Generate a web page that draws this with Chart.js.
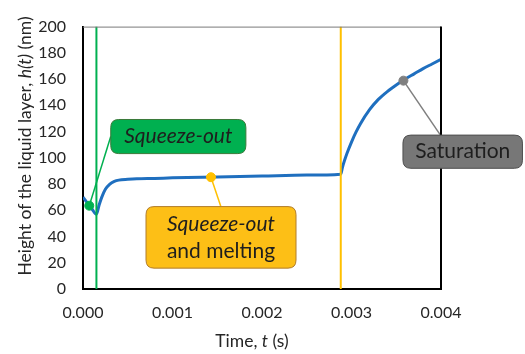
<!DOCTYPE html>
<html>
<head>
<meta charset="utf-8">
<script src="https://cdn.jsdelivr.net/npm/chart.js@4/dist/chart.umd.min.js"></script>
<style>
  html, body { margin: 0; padding: 0; background: #fff; }
  canvas { display: block; }
</style>
</head>
<body>
<canvas id="chart" width="525" height="354"></canvas>
<script>
// Curve h(t)
const timeS = [0, 0.00005, 0.0001, 0.00015, 0.00018, 0.00021, 0.00025, 0.0003, 0.00035, 0.0004,
    0.0005, 0.0006, 0.0008, 0.001, 0.0015, 0.002, 0.0025, 0.00288, 0.0029, 0.00292, 0.00295,
    0.003, 0.00305, 0.0031, 0.0032, 0.0033, 0.0034, 0.0035, 0.0036, 0.0037, 0.0038, 0.0039, 0.004];
const heightNm = [70, 65.5, 61, 57, 64, 70, 76, 80, 82, 83,
    83.6, 84, 84.3, 84.7, 85.4, 86.1, 86.8, 87.5, 93, 97.5, 103.5,
    112, 119.5, 126, 136.5, 144.5, 150.5, 155.5, 160, 164, 168, 171.5, 175];

// Phase boundaries (vertical lines)
const phaseTimes = [0.00015, 0.00288];
const phaseColors = ['#00B050', '#FFC000'];

// Callout points on the curve
const calloutT = [0.00007, 0.00143, 0.00358];
const calloutH = [63.5, 85.2, 158.8];
const calloutColors = ['#00B050', '#FFC000', '#7F7F7F'];

const xTicks = [0, 0.001, 0.002, 0.003, 0.004];
const FONT = 'Lato, "Open Sans", sans-serif';
const TEXT = '#262626';

// Callout boxes, placed in data units
const callouts = [
  { lines: [[{ s: 'Squeeze-out', i: true }]], x0: 0.00031, x1: 0.00182, y0: 129.2, y1: 103.2,
    fill: '#00B050', stroke: '#3A7A3A', lead: [0.00031, 116.3] },
  { lines: [[{ s: 'Squeeze-out', i: true }], [{ s: 'and melting', i: false }]], x0: 0.000704, x1: 0.00238, y0: 62.8, y1: 15.9,
    fill: '#FDBF16', stroke: '#B07C2C', lead: [0.00154, 62.8] },
  { lines: [[{ s: 'Saturation', i: false }]], x0: 0.003575, x1: 0.00491, y0: 117.3, y1: 92,
    fill: '#777777', stroke: '#4D4D4D', lead: [0.00399, 117.7] }
];

function fontOf(i, size) {
  return (i ? 'italic ' : '') + size + 'px ' + FONT;
}

// draws a run of normal/italic pieces centred at (0,0) of the current transform
function drawRun(ctx, parts, size) {
  let total = 0;
  parts.forEach(p => { ctx.font = fontOf(p.i, size); total += ctx.measureText(p.s).width; });
  let x = -total / 2;
  ctx.textAlign = 'left';
  ctx.textBaseline = 'middle';
  parts.forEach(p => {
    ctx.font = fontOf(p.i, size);
    ctx.fillText(p.s, x, 0);
    x += ctx.measureText(p.s).width;
  });
}

function roundRect(ctx, x, y, w, h, r) {
  ctx.beginPath();
  ctx.moveTo(x + r, y);
  ctx.lineTo(x + w - r, y);
  ctx.quadraticCurveTo(x + w, y, x + w, y + r);
  ctx.lineTo(x + w, y + h - r);
  ctx.quadraticCurveTo(x + w, y + h, x + w - r, y + h);
  ctx.lineTo(x + r, y + h);
  ctx.quadraticCurveTo(x, y + h, x, y + h - r);
  ctx.lineTo(x, y + r);
  ctx.quadraticCurveTo(x, y, x + r, y);
  ctx.closePath();
}

const decorPlugin = {
  id: 'decor',
  beforeDatasetsDraw(chart) {
    // leader lines under the markers
    const { ctx, scales: { x, y } } = chart;
    ctx.save();
    ctx.lineWidth = 1.5;
    callouts.forEach((c, k) => {
      ctx.strokeStyle = calloutColors[k];
      ctx.beginPath();
      ctx.moveTo(x.getPixelForValue(calloutT[k]), y.getPixelForValue(calloutH[k]));
      ctx.lineTo(x.getPixelForValue(c.lead[0]), y.getPixelForValue(c.lead[1]));
      ctx.stroke();
    });
    ctx.restore();
  },
  afterDraw(chart) {
    const { ctx, chartArea: a, scales: { x, y } } = chart;
    ctx.save();
    // top and right frame
    ctx.strokeStyle = '#7a7a7a';
    ctx.lineWidth = 1;
    ctx.beginPath();
    ctx.moveTo(a.left, a.top + 0.5);
    ctx.lineTo(a.right, a.top + 0.5);
    ctx.stroke();
    ctx.strokeStyle = '#000';
    ctx.lineWidth = 2;
    ctx.beginPath();
    ctx.moveTo(a.right, a.top);
    ctx.lineTo(a.right, a.bottom);
    ctx.stroke();

    // callout boxes
    callouts.forEach(c => {
      const px0 = x.getPixelForValue(c.x0), px1 = x.getPixelForValue(c.x1);
      const py0 = y.getPixelForValue(c.y0), py1 = y.getPixelForValue(c.y1);
      roundRect(ctx, px0, py0, px1 - px0, py1 - py0, 8);
      ctx.fillStyle = c.fill;
      ctx.fill();
      ctx.strokeStyle = c.stroke;
      ctx.lineWidth = 1;
      ctx.stroke();
      ctx.fillStyle = '#1e1e1e';
      const n = c.lines.length, gap = 27;
      c.lines.forEach((ln, j) => {
        ctx.save();
        ctx.translate((px0 + px1) / 2, (py0 + py1) / 2 + (j - (n - 1) / 2) * gap);
        drawRun(ctx, ln, 21);
        ctx.restore();
      });
    });

    // axis titles
    ctx.fillStyle = TEXT;
    ctx.save();
    ctx.translate(25, 146);
    ctx.rotate(-Math.PI / 2);
    drawRun(ctx, [{ s: 'Height of the liquid layer, ', i: false }, { s: 'h(t)', i: true }, { s: ' (nm)', i: false }], 17.5);
    ctx.restore();
    ctx.save();
    ctx.translate(252, 341);
    drawRun(ctx, [{ s: 'Time, ', i: false }, { s: 't', i: true }, { s: ' (s)', i: false }], 17.5);
    ctx.restore();
    ctx.restore();
  }
};

const datasets = [
  {
    data: timeS.map((t, i) => ({ x: t, y: heightNm[i] })),
    borderColor: '#1F6FBF', borderWidth: 3, pointRadius: 0,
    cubicInterpolationMode: 'monotone', order: 2
  }
];
phaseTimes.forEach((t, k) => {
  datasets.push({
    data: [{ x: t, y: 0 }, { x: t, y: 200 }],
    borderColor: phaseColors[k], borderWidth: 2, pointRadius: 0, order: 1
  });
});
datasets.push({
  type: 'scatter',
  data: calloutT.map((t, i) => ({ x: t, y: calloutH[i] })),
  pointBackgroundColor: calloutColors, pointBorderColor: calloutColors,
  pointRadius: 4.5, order: 0
});

new Chart(document.getElementById('chart'), {
  type: 'line',
  data: { datasets },
  options: {
    responsive: false,
    animation: false,
    layout: { padding: { left: 0, right: 84, top: 12, bottom: 0 } },
    plugins: { legend: { display: false }, tooltip: { enabled: false } },
    scales: {
      x: {
        type: 'linear', min: 0, max: 0.004,
        afterBuildTicks: s => { s.ticks = xTicks.map(v => ({ value: v })); },
        ticks: { callback: v => v.toFixed(3), font: { family: FONT, size: 16 }, color: TEXT, padding: 14, maxRotation: 0 },
        grid: { display: false, drawTicks: false },
        border: { color: '#000', width: 2 },
        afterFit: s => { s.height = 65; }
      },
      y: {
        min: 0, max: 200,
        ticks: { stepSize: 20, font: { family: FONT, size: 16 }, color: TEXT, padding: 17 },
        grid: { display: false, drawTicks: false },
        border: { color: '#000', width: 2 },
        afterFit: s => { s.width = 83; }
      }
    }
  },
  plugins: [decorPlugin]
});
</script>
</body>
</html>
